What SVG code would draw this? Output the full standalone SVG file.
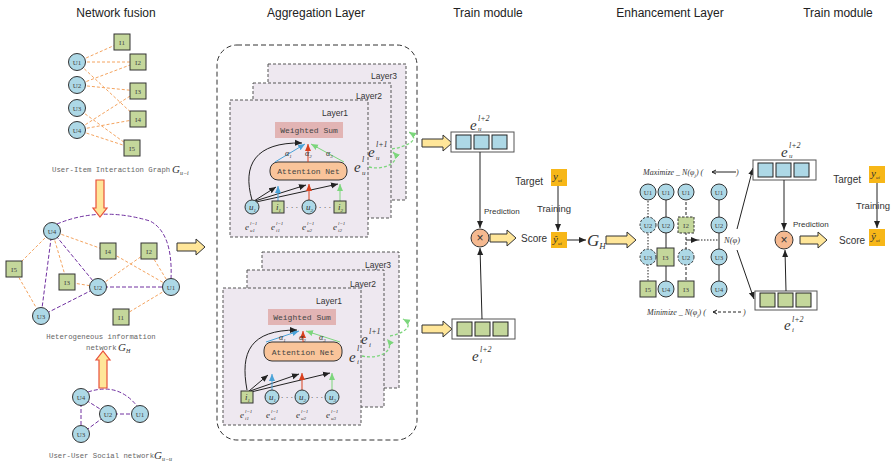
<svg xmlns="http://www.w3.org/2000/svg" width="894" height="466" viewBox="0 0 894 466">
<defs>
<style>
.t{font-family:"Liberation Sans",Arial,sans-serif;font-size:12px;fill:#222;text-anchor:middle}
.u{fill:#ADD8E6;stroke:#333;stroke-width:1}
.ud{fill:#ADD8E6;stroke:#333;stroke-width:1;stroke-dasharray:2.5,1.5}
.i{fill:#C4D79B;stroke:#333;stroke-width:1}
.id{fill:#C4D79B;stroke:#333;stroke-width:1;stroke-dasharray:2.5,1.5}
.nl{font-family:"Liberation Serif",serif;font-size:7px;fill:#444;text-anchor:middle}
.oe{stroke:#F4A460;stroke-width:1;stroke-dasharray:3,2;fill:none}
.pe{stroke:#7030A0;stroke-width:1;stroke-dasharray:4,2;fill:none}
.cap{font-family:"Liberation Mono",monospace;font-size:7.3px;fill:#666}
.g{font-family:"Liberation Serif",serif;font-style:italic;fill:#333}
.ly{fill:#EEE8F0;stroke:#555;stroke-width:1;stroke-dasharray:3,2}
.lt{font-family:"Liberation Sans",sans-serif;font-size:8.5px;fill:#333;text-anchor:end}
.ws{fill:#E2B4B4}
.an{fill:#F9C49A;stroke:#333;stroke-width:1}
.mono{font-family:"Liberation Mono",monospace;font-size:8px;fill:#444;text-anchor:middle}
.ba{fill:#FFE699;stroke:#333;stroke-width:1}
.ra{fill:#FFE699;stroke:#E8503A;stroke-width:1.2}
.k{stroke:#222;stroke-width:1;fill:none}
.kd{stroke:#222;stroke-width:1;fill:none;stroke-dasharray:1.5,1.5}
.s{font-family:"Liberation Sans",sans-serif;fill:#333}
.vb{fill:#fff;stroke:#555;stroke-width:1}
.vu{fill:#ADD8E6;stroke:#222;stroke-width:1}
.vi{fill:#C4D79B;stroke:#222;stroke-width:1}
.y{fill:#F7B718}
.gd{stroke:#7CD67C;stroke-width:1.3;stroke-dasharray:3,2;fill:none}
.bl{stroke:#4BA3D8;stroke-width:1;fill:none}
.rd{stroke:#D9401E;stroke-width:1;fill:none}
.gr{stroke:#7CD67C;stroke-width:1;fill:none}
.mx{fill:#F5B990;stroke:#333;stroke-width:1}
</style>
<marker id="ak" markerWidth="8" markerHeight="8" refX="7" refY="4" orient="auto" markerUnits="userSpaceOnUse"><path d="M0,1 L7,4 L0,7 Z" fill="#222"/></marker>
<marker id="ab" markerWidth="8" markerHeight="8" refX="7" refY="4" orient="auto" markerUnits="userSpaceOnUse"><path d="M0,1 L7,4 L0,7 Z" fill="#4BA3D8"/></marker>
<marker id="ar" markerWidth="8" markerHeight="8" refX="7" refY="4" orient="auto" markerUnits="userSpaceOnUse"><path d="M0,1 L7,4 L0,7 Z" fill="#D9401E"/></marker>
<marker id="ag" markerWidth="8" markerHeight="8" refX="7" refY="4" orient="auto" markerUnits="userSpaceOnUse"><path d="M0,1 L7,4 L0,7 Z" fill="#7CD67C"/></marker>
</defs>
<rect width="894" height="466" fill="#fff"/>

<g id="titles">
<text class="t" x="116" y="17">Network fusion</text>
<text class="t" x="316" y="17">Aggregation Layer</text>
<text class="t" x="488" y="17">Train module</text>
<text class="t" x="670" y="17">Enhancement  Layer</text>
<text class="t" x="838" y="17">Train module</text>
</g>

<!-- Network fusion connectors -->
<g id="connectors-fusion">
<path class="oe" d="M77,62 L122,42 M77,62 L138,62 M77,62 L138,119 M77,85 L138,62 M77,85 L138,91 M77,108 L132,148 M77,130 L138,91 M77,130 L138,119 M77,130 L132,148"/>
<path class="oe" d="M52,231 L14,269 M14,269 L41,316 M52,231 L67,282 M67,282 L98,287 M52,231 L108,251 M108,251 L171,287 M149,251 L98,287 M149,251 L171,287 M121,317 L171,287"/>
<path class="pe" d="M57,224 Q100,206 150,221 Q173,233 171,279 M52,231 L98,287 M52,231 L41,316 M98,287 L171,287 M41,316 L98,287"/>
<path class="pe" d="M81,397 L108,414 M108,414 L140,414 M81,397 L81,434 M81,434 L108,414 M88,392 Q118,382 137,406"/>
</g>

<g id="ui-graph">
<g id="ui-U1"><circle class="u" cx="77" cy="62" r="8.5"/><text class="nl" x="77" y="64.5">U1</text></g>
<g id="ui-U2"><circle class="u" cx="77" cy="85" r="8.5"/><text class="nl" x="77" y="87.5">U2</text></g>
<g id="ui-U3"><circle class="u" cx="77" cy="108" r="8.5"/><text class="nl" x="77" y="110.5">U3</text></g>
<g id="ui-U4"><circle class="u" cx="77" cy="130" r="8.5"/><text class="nl" x="77" y="132.5">U4</text></g>
<g id="ui-I1"><rect class="i" x="114" y="34" width="16" height="16"/><text class="nl" x="122" y="44.5">I1</text></g>
<g id="ui-I2"><rect class="i" x="130" y="54" width="16" height="16"/><text class="nl" x="138" y="64.5">I2</text></g>
<g id="ui-I3"><rect class="i" x="130" y="83" width="16" height="16"/><text class="nl" x="138" y="93.5">I3</text></g>
<g id="ui-I4"><rect class="i" x="130" y="111" width="16" height="16"/><text class="nl" x="138" y="121.5">I4</text></g>
<g id="ui-I5"><rect class="i" x="124" y="140" width="16" height="16"/><text class="nl" x="132" y="150.5">I5</text></g>
<text class="cap" x="52" y="172">User-Item Interaction Graph</text>
<text class="g" x="172" y="173" font-size="11">G<tspan font-size="6" dy="2">u−i</tspan></text>
</g>

<g id="arrow-down"><path class="ra" d="M96,180 H104 V208 H107 L100,217 L93,208 H96 Z"/></g>

<g id="hin-graph">
<g id="h-U4"><circle class="u" cx="52" cy="231" r="8.5"/><text class="nl" x="52" y="233.5">U4</text></g>
<g id="h-U2"><circle class="u" cx="98" cy="287" r="8.5"/><text class="nl" x="98" y="289.5">U2</text></g>
<g id="h-U1"><circle class="u" cx="171" cy="287" r="8.5"/><text class="nl" x="171" y="289.5">U1</text></g>
<g id="h-U3"><circle class="u" cx="41" cy="316" r="8.5"/><text class="nl" x="41" y="318.5">U3</text></g>
<g id="h-I4"><rect class="i" x="100" y="243" width="16" height="16"/><text class="nl" x="108" y="253.5">I4</text></g>
<g id="h-I2"><rect class="i" x="141" y="243" width="16" height="16"/><text class="nl" x="149" y="253.5">I2</text></g>
<g id="h-I5"><rect class="i" x="6" y="261" width="16" height="16"/><text class="nl" x="14" y="271.5">I5</text></g>
<g id="h-I3"><rect class="i" x="59" y="274" width="16" height="16"/><text class="nl" x="67" y="284.5">I3</text></g>
<g id="h-I1"><rect class="i" x="113" y="309" width="16" height="16"/><text class="nl" x="121" y="319.5">I1</text></g>
<text class="cap" x="101" y="339" text-anchor="middle" font-size="7.4">Heterogeneous information</text>
<text class="cap" x="86" y="350" font-size="7.4">network</text>
<text class="g" x="118" y="351" font-size="11">G<tspan font-size="6" dy="2">H</tspan></text>
</g>

<g id="arrow-up"><path class="ra" d="M99,388 V360 H96 L103,351 L110,360 H107 V388 Z"/></g>

<g id="social-graph">
<g id="s-U4"><circle class="u" cx="81" cy="397" r="8.5"/><text class="nl" x="81" y="399.5">U4</text></g>
<g id="s-U2"><circle class="u" cx="108" cy="414" r="8.5"/><text class="nl" x="108" y="416.5">U2</text></g>
<g id="s-U1"><circle class="u" cx="140" cy="414" r="8.5"/><text class="nl" x="140" y="416.5">U1</text></g>
<g id="s-U3"><circle class="u" cx="81" cy="434" r="8.5"/><text class="nl" x="81" y="436.5">U3</text></g>
<text class="cap" x="49" y="458">User-User Social network</text>
<text class="g" x="154" y="459" font-size="11">G<tspan font-size="6" dy="2">u−u</tspan></text>
</g>

<g id="block-arrows">
<path class="ba" d="M177,243 H196 V239 L205,247 L196,255 V251 H177 Z"/>
<path class="ba" d="M422,139 H443 V135 L452,143 L443,151 V147 H422 Z"/>
<path class="ba" d="M422,325 H443 V321 L452,329 L443,337 V333 H422 Z"/>
<path class="ba" d="M490,234 H507 V230 L516,238 L507,246 V242 H490 Z"/>
<path class="ba" d="M606,236 H627 V232 L636,240 L627,248 V244 H606 Z"/>
<path class="ba" d="M800,236 H818 V232 L827,240 L818,248 V244 H800 Z"/>
</g>

<!-- Aggregation layer -->
<g id="aggregation">
<rect x="217" y="45" width="200" height="395" rx="20" fill="none" stroke="#333" stroke-width="1" stroke-dasharray="5,3"/>

<g id="user-stack">
<rect class="ly" x="268" y="64" width="138" height="136"/>
<text class="lt" x="397" y="79">Layer3</text>
<rect class="ly" x="253" y="83" width="138" height="135"/>
<text class="lt" x="382" y="99">Layer2</text>
<rect class="ly" x="230" y="100" width="138" height="137"/>
<text class="lt" x="348" y="116">Layer1</text>
<rect class="ws" x="275" y="122" width="68" height="16"/>
<text class="mono" x="309" y="133">Weighted Sum</text>
<rect class="an" x="270" y="162" width="77" height="18" rx="8"/>
<text class="mono" x="308.5" y="174">Attention Net</text>
<path class="bl" d="M275,162 L305,144" marker-end="url(#ab)"/>
<path class="rd" d="M308,162 L308,144" marker-end="url(#ar)"/>
<path class="gr" d="M344,162 L311,144" marker-end="url(#ag)"/>
<path class="k" d="M252,200 C242,165 255,142 302,143" marker-end="url(#ak)"/>
<path class="k" d="M254,201 L276,187" marker-end="url(#ak)"/>
<path class="k" d="M255,201 L306,185" marker-end="url(#ak)"/>
<path class="k" d="M256,202 L338,184" marker-end="url(#ak)"/>
<path class="bl" d="M278,201 L278,186" marker-end="url(#ab)"/>
<path class="rd" d="M309,200 L309,184" marker-end="url(#ar)"/>
<path class="gr" d="M340,201 L340,184" marker-end="url(#ag)"/>
<g class="g" font-size="8"><text x="285" y="156">α<tspan font-size="5" dy="1.5">1</tspan></text><text x="305" y="156">α<tspan font-size="5" dy="1.5">2</tspan></text><text x="326" y="156">α<tspan font-size="5" dy="1.5">3</tspan></text></g>
<g id="n-u1"><circle class="u" cx="252" cy="207" r="7"/><text class="g" x="249" y="210" font-size="9" fill="#2a4a7a">u<tspan font-size="5" dy="1.5">1</tspan></text></g>
<g id="n-i1"><rect class="i" x="272" y="201" width="12" height="12"/><text class="g" x="276" y="210" font-size="9">i<tspan font-size="5" dy="1.5">1</tspan></text></g>
<g id="n-u2"><circle class="u" cx="309" cy="207" r="7"/><text class="g" x="306" y="210" font-size="9" fill="#2a4a7a">u<tspan font-size="5" dy="1.5">2</tspan></text></g>
<g id="n-i2"><rect class="i" x="334" y="201" width="12" height="12"/><text class="g" x="338" y="210" font-size="9">i<tspan font-size="5" dy="1.5">2</tspan></text></g>
<text class="s" x="292" y="210" font-size="8" text-anchor="middle">· · ·</text>
<text class="s" x="325" y="210" font-size="8" text-anchor="middle">· · ·</text>
<g class="g" fill="#555">
<text x="245" y="230" font-size="9">e</text><text x="250" y="225" font-size="5">l−1</text><text x="250" y="232" font-size="5">u1</text>
<text x="271" y="230" font-size="9">e</text><text x="276" y="225" font-size="5">l−1</text><text x="276" y="232" font-size="5">i1</text>
<text x="302" y="230" font-size="9">e</text><text x="307" y="225" font-size="5">l−1</text><text x="307" y="232" font-size="5">u2</text>
<text x="333" y="230" font-size="9">e</text><text x="338" y="225" font-size="5">l−1</text><text x="338" y="232" font-size="5">i2</text>
</g>
<g class="g">
<text x="354" y="172" font-size="15">e</text><text x="362" y="162" font-size="8">l</text><text x="362" y="175" font-size="7">u</text>
<text x="368" y="157" font-size="15">e</text><text x="376" y="147" font-size="8">l+1</text><text x="376" y="160" font-size="7">u</text>
</g>
<path class="gd" d="M369,167 C385,171 402,161 393,152" marker-end="url(#ag)"/>
<path class="gd" d="M392,149 C405,147 422,140 409,132" marker-end="url(#ag)"/>
</g>

<g id="item-stack">
<rect class="ly" x="262" y="252" width="137" height="136"/>
<text class="lt" x="391" y="268">Layer3</text>
<rect class="ly" x="247" y="270" width="137" height="137"/>
<text class="lt" x="376" y="287">Layer2</text>
<rect class="ly" x="223" y="288" width="138" height="137"/>
<text class="lt" x="342" y="304">Layer1</text>
<rect class="ws" x="268" y="309" width="68" height="16"/>
<text class="mono" x="302" y="320">Weighted Sum</text>
<rect class="an" x="264" y="342" width="78" height="19" rx="8"/>
<text class="mono" x="303" y="354.5">Attention Net</text>
<path class="bl" d="M266,342 L299,331" marker-end="url(#ab)"/>
<path class="rd" d="M303,342 L303,331" marker-end="url(#ar)"/>
<path class="gr" d="M340,342 L306,331" marker-end="url(#ag)"/>
<path class="k" d="M247,390 C240,352 250,330 297,330" marker-end="url(#ak)"/>
<path class="k" d="M249,391 L268,375" marker-end="url(#ak)"/>
<path class="k" d="M250,391 L299,374" marker-end="url(#ak)"/>
<path class="k" d="M251,392 L330,373" marker-end="url(#ak)"/>
<path class="bl" d="M272,390 L272,374" marker-end="url(#ab)"/>
<path class="rd" d="M302,390 L302,373" marker-end="url(#ar)"/>
<path class="gr" d="M332,390 L332,373" marker-end="url(#ag)"/>
<g class="g" font-size="8"><text x="279" y="340">α<tspan font-size="5" dy="1.5">1</tspan></text><text x="299" y="340">α<tspan font-size="5" dy="1.5">2</tspan></text><text x="319" y="340">α<tspan font-size="5" dy="1.5">3</tspan></text></g>
<g id="m-i1"><rect class="i" x="241" y="391" width="12" height="12"/><text class="g" x="245" y="400" font-size="9">i<tspan font-size="5" dy="1.5">1</tspan></text></g>
<g id="m-u1"><circle class="u" cx="272" cy="397" r="7"/><text class="g" x="269" y="400" font-size="9" fill="#2a4a7a">u<tspan font-size="5" dy="1.5">1</tspan></text></g>
<g id="m-u2"><circle class="u" cx="302" cy="397" r="7"/><text class="g" x="299" y="400" font-size="9" fill="#2a4a7a">u<tspan font-size="5" dy="1.5">2</tspan></text></g>
<g id="m-u3"><circle class="u" cx="332" cy="397" r="7"/><text class="g" x="329" y="400" font-size="9" fill="#2a4a7a">u<tspan font-size="5" dy="1.5">3</tspan></text></g>
<text class="s" x="287" y="400" font-size="8" text-anchor="middle">· · ·</text>
<text class="s" x="317" y="400" font-size="8" text-anchor="middle">· · ·</text>
<g class="g" fill="#555">
<text x="240" y="418" font-size="9">e</text><text x="245" y="413" font-size="5">l−1</text><text x="245" y="420" font-size="5">i1</text>
<text x="266" y="418" font-size="9">e</text><text x="271" y="413" font-size="5">l−1</text><text x="271" y="420" font-size="5">u1</text>
<text x="296" y="418" font-size="9">e</text><text x="301" y="413" font-size="5">l−1</text><text x="301" y="420" font-size="5">u2</text>
<text x="326" y="418" font-size="9">e</text><text x="331" y="413" font-size="5">l−1</text><text x="331" y="420" font-size="5">u3</text>
</g>
<g class="g">
<text x="349" y="362" font-size="15">e</text><text x="357" y="351" font-size="8">l</text><text x="357" y="364" font-size="7">i</text>
<text x="361" y="344" font-size="15">e</text><text x="369" y="334" font-size="8">l+1</text><text x="369" y="347" font-size="7">i</text>
</g>
<path class="gd" d="M362,356 C380,360 396,350 387,339" marker-end="url(#ag)"/>
<path class="gd" d="M390,336 C402,334 416,326 403,319" marker-end="url(#ag)"/>
</g>
</g>

<!-- Train module 1 -->
<g id="train1">
<g id="t1-eu"><rect class="vb" x="451" y="132" width="63" height="20"/><rect class="vu" x="456" y="135" width="15" height="14"/><rect class="vu" x="474" y="135" width="15" height="14"/><rect class="vu" x="492" y="135" width="15" height="14"/></g>
<g class="g"><text x="470" y="130" font-size="15">e</text><text x="478" y="121" font-size="8">l+2</text><text x="478" y="131" font-size="7">u</text></g>
<g id="t1-ei"><rect class="vb" x="452" y="319" width="63" height="20"/><rect class="vi" x="457" y="322" width="15" height="14"/><rect class="vi" x="475" y="322" width="15" height="14"/><rect class="vi" x="493" y="322" width="15" height="14"/></g>
<g class="g"><text x="472" y="361" font-size="15">e</text><text x="480" y="352" font-size="8">l+2</text><text x="480" y="363" font-size="7">i</text></g>
<g id="t1-mul"><circle class="mx" cx="480" cy="238" r="9"/><text class="s" x="480" y="242" font-size="12" text-anchor="middle">×</text></g>
<text class="s" x="484" y="214" font-size="8">Prediction</text>
<text class="s" x="521" y="242" font-size="10">Score</text>
<g id="t1-target"><rect class="y" x="551" y="169" width="16" height="17"/><text class="g" x="553" y="180" font-size="11" fill="#6b5200">y<tspan font-size="5" dy="2">ui</tspan></text></g>
<text class="s" x="543" y="185" font-size="10" text-anchor="end">Target</text>
<g id="t1-score"><rect class="y" x="551" y="232" width="16" height="16"/><text class="g" x="553" y="243" font-size="11" fill="#6b5200">ŷ<tspan font-size="5" dy="2">ui</tspan></text></g>
<text class="s" x="537" y="212" font-size="9.5">Training</text>
<text class="g" x="587" y="246" font-size="17">G<tspan font-size="9" dy="3">H</tspan></text>
</g>

<!-- Enhancement layer -->
<g id="enhancement">
<g class="g" font-size="8"><text x="643" y="175">Maximize _ N(φ<tspan font-size="5" dy="1.5">j</tspan><tspan dy="-1.5">) (</tspan></text><text x="736" y="175">)</text></g>
<path class="k" d="M712,172 H736" />
<path d="M712,172 L716,170 M712,172 L716,174" class="k"/>
<g class="g" font-size="8"><text x="647" y="315">Minimize _ N(φ<tspan font-size="5" dy="1.5">j</tspan><tspan dy="-1.5">) (</tspan></text><text x="743" y="315">)</text></g>
<path class="k" d="M713,312 H742" stroke-dasharray="3,2"/>
<path d="M713,312 L717,310 M713,312 L717,314" class="k"/>
<path class="kd" d="M648,192 V289" stroke-dasharray="3,2"/>
<path class="k" d="M666,192 V289"/>
<path class="k" d="M686,192 V289" stroke-dasharray="3,2"/>
<path class="k" d="M719,192 V289"/>
<path class="k" d="M686,240 H698" marker-end="url(#ak)"/>
<path class="kd" d="M698,240 H718"/>
<g id="c1-U1"><circle class="u" cx="648" cy="192" r="8"/><text class="nl" x="648" y="194.5">U1</text></g>
<g id="c1-U2"><circle class="ud" cx="648" cy="225" r="8"/><text class="nl" x="648" y="227.5">U2</text></g>
<g id="c1-U3"><circle class="ud" cx="648" cy="257" r="8"/><text class="nl" x="648" y="259.5">U3</text></g>
<g id="c1-I5"><rect class="i" x="640" y="281" width="16" height="16"/><text class="nl" x="648" y="291.5">I5</text></g>
<g id="c2-U1"><circle class="u" cx="666" cy="192" r="8"/><text class="nl" x="666" y="194.5">U1</text></g>
<g id="c2-U2"><circle class="u" cx="666" cy="225" r="8"/><text class="nl" x="666" y="227.5">U2</text></g>
<g id="c2-I3"><rect class="i" x="657" y="248" width="17" height="18"/><text class="nl" x="665.5" y="259.5">I3</text></g>
<g id="c2-U4"><circle class="u" cx="666" cy="289" r="8"/><text class="nl" x="666" y="291.5">U4</text></g>
<g id="c3-U1"><circle class="u" cx="686" cy="192" r="8"/><text class="nl" x="686" y="194.5">U1</text></g>
<g id="c3-I2"><rect class="id" x="678" y="217" width="16" height="16"/><text class="nl" x="686" y="227.5">I2</text></g>
<g id="c3-U2"><circle class="ud" cx="686" cy="257" r="8"/><text class="nl" x="686" y="259.5">U2</text></g>
<g id="c3-I3"><rect class="i" x="678" y="281" width="16" height="16"/><text class="nl" x="686" y="291.5">I3</text></g>
<g id="r-U1"><circle class="u" cx="719" cy="192" r="8"/><text class="nl" x="719" y="194.5">U1</text></g>
<g id="r-U2"><circle class="u" cx="719" cy="225" r="8"/><text class="nl" x="719" y="227.5">U2</text></g>
<g id="r-U3"><circle class="u" cx="719" cy="257" r="8"/><text class="nl" x="719" y="259.5">U3</text></g>
<g id="r-U4"><circle class="u" cx="719" cy="289" r="8"/><text class="nl" x="719" y="291.5">U4</text></g>
<text class="g" x="724" y="243" font-size="8.5">N(φ)</text>
<path class="k" d="M737,229 L753,168" marker-end="url(#ak)"/>
<path class="k" d="M737,250 L754,299" marker-end="url(#ak)"/>
</g>

<!-- Train module 2 -->
<g id="train2">
<g id="t2-eu"><rect class="vb" x="753" y="160" width="63" height="20"/><rect class="vu" x="758" y="163" width="15" height="14"/><rect class="vu" x="776" y="163" width="15" height="14"/><rect class="vu" x="794" y="163" width="15" height="14"/></g>
<g class="g"><text x="781" y="157" font-size="15">e</text><text x="789" y="148" font-size="8">l+2</text><text x="789" y="158" font-size="7">u</text></g>
<g id="t2-ei"><rect class="vb" x="755" y="291" width="62" height="19"/><rect class="vi" x="760" y="293" width="15" height="14"/><rect class="vi" x="778" y="293" width="15" height="14"/><rect class="vi" x="796" y="293" width="15" height="14"/></g>
<g class="g"><text x="784" y="330" font-size="15">e</text><text x="792" y="322" font-size="8">l+2</text><text x="792" y="332" font-size="7">i</text></g>
<g id="t2-mul"><circle class="mx" cx="784" cy="240" r="9"/><text class="s" x="784" y="244" font-size="12" text-anchor="middle">×</text></g>
<text class="s" x="793" y="227" font-size="8">Prediction</text>
<text class="s" x="839" y="244" font-size="10">Score</text>
<g id="t2-target"><rect class="y" x="869" y="166" width="16" height="17"/><text class="g" x="871" y="177" font-size="11" fill="#6b5200">y<tspan font-size="5" dy="2">ui</tspan></text></g>
<text class="s" x="861" y="183" font-size="10" text-anchor="end">Target</text>
<g id="t2-score"><rect class="y" x="869" y="229" width="16" height="17"/><text class="g" x="871" y="240" font-size="11" fill="#6b5200">ŷ<tspan font-size="5" dy="2">ui</tspan></text></g>
<text class="s" x="856" y="209" font-size="9.5">Training</text>
</g>

<g id="connectors">
<path class="k" d="M480,152 L480,228" marker-end="url(#ak)"/>
<path class="k" d="M482,319 L480,248" marker-end="url(#ak)"/>
<path class="k" d="M558,186 L558,231" marker-end="url(#ak)"/>
<path class="k" d="M567,240 L586,240" marker-end="url(#ak)"/>
<path class="k" d="M784,180 L784,230" marker-end="url(#ak)"/>
<path class="k" d="M786,291 L785,250" marker-end="url(#ak)"/>
<path class="k" d="M877,183 L877,228" marker-end="url(#ak)"/>
</g>
</svg>
